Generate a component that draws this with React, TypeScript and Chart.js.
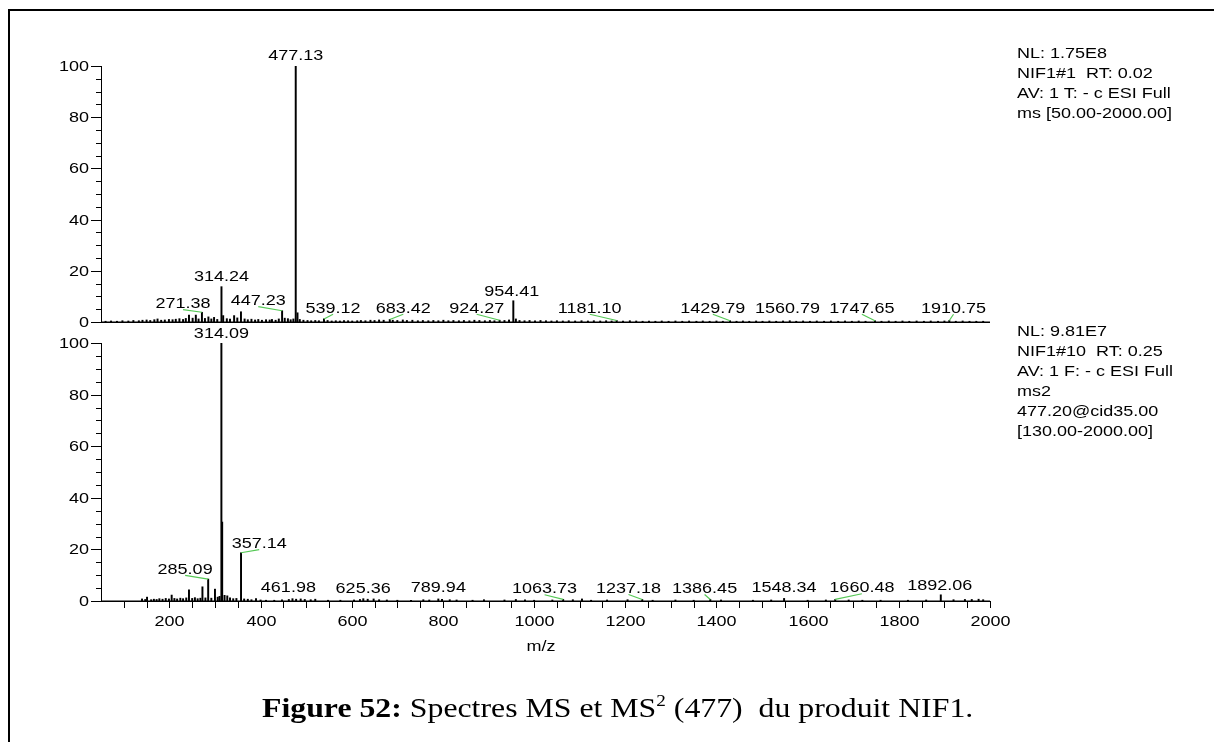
import React, { useEffect, useRef } from "react";
import { Chart, registerables } from "chart.js";

Chart.register(...registerables);

const X_MIN = 50;
const X_MAX = 2000;
const X_MAJOR_STEP = 200;
const X_MINOR_STEP = 50;
const Y_MAX = 100;
const Y_MAJOR_STEP = 20;
const Y_MINOR_STEP = 5;

// MS spectrum (top): [m/z, relative abundance %]
const TOP_PEAKS: [number, number][] = [
  [60, 0.3], [72, 0.4], [85, 0.3], [97, 0.5], [110, 0.4], [121, 0.6], [133, 0.5], [141, 0.7],
  [150, 0.8], [158, 0.6], [167, 0.9], [174, 1.2], [182, 0.7], [190, 0.8], [199, 1.0], [207, 0.9],
  [214, 1.1], [222, 1.3], [230, 1.0], [236, 1.4], [243, 2.7], [251, 1.5], [258, 2.7], [264, 1.2],
  [271.38, 3.8], [278, 1.4], [285.6, 2.0], [292, 1.2], [298, 1.8], [305, 1.0], [314.24, 13.8],
  [318, 2.5], [326, 1.3], [333, 1.1], [342, 2.5], [349, 1.6], [357, 4.0], [365, 1.2], [372, 0.9],
  [380, 1.1], [388, 0.8], [395, 1.0], [403, 0.7], [412, 0.9], [420, 0.8], [425, 1.0], [433, 0.7],
  [440, 1.2], [447.23, 4.4], [453, 1.5], [460, 1.3], [466, 0.9], [472, 1.2], [477.13, 100],
  [481, 3.6], [486, 1.0], [494, 0.7], [503, 0.6], [511, 0.5], [520, 0.6], [528, 0.5], [539.12, 1.2],
  [547, 0.6], [556, 0.4], [565, 0.5], [574, 0.4], [583, 0.6], [592, 0.5], [601, 0.4], [612, 0.5],
  [620, 0.6], [630, 0.5], [641, 0.7], [650, 0.6], [660, 0.8], [670, 0.7], [683.42, 1.0], [690, 0.7],
  [700, 0.6], [712, 0.8], [721, 0.6], [733, 0.7], [745, 0.5], [756, 0.6], [768, 0.5], [779, 0.6],
  [790, 0.5], [801, 0.7], [812, 0.5], [823, 0.6], [835, 0.5], [846, 0.6], [858, 0.5], [869, 0.7],
  [880, 0.6], [892, 0.5], [903, 0.6], [913, 0.5], [924.27, 0.7], [935, 0.6], [945, 0.8],
  [954.41, 8.3], [960, 1.2], [968, 0.6], [979, 0.5], [990, 0.6], [1002, 0.5], [1014, 0.6],
  [1026, 0.5], [1038, 0.4], [1050, 0.5], [1063, 0.4], [1076, 0.5], [1090, 0.4], [1104, 0.5],
  [1118, 0.4], [1131, 0.5], [1145, 0.4], [1158, 0.5], [1170, 0.4], [1181.1, 0.6], [1195, 0.4],
  [1210, 0.5], [1224, 0.4], [1238, 0.3], [1252, 0.4], [1266, 0.3], [1280, 0.4], [1295, 0.3],
  [1310, 0.4], [1325, 0.3], [1340, 0.4], [1356, 0.3], [1370, 0.4], [1385, 0.3], [1400, 0.4],
  [1414, 0.3], [1429.79, 0.5], [1444, 0.3], [1458, 0.4], [1472, 0.3], [1487, 0.4], [1501, 0.3],
  [1516, 0.4], [1531, 0.3], [1546, 0.4], [1560.79, 0.5], [1575, 0.3], [1590, 0.4], [1605, 0.3],
  [1620, 0.4], [1636, 0.3], [1651, 0.4], [1667, 0.3], [1682, 0.4], [1697, 0.3], [1712, 0.4],
  [1727, 0.3], [1747.65, 0.5], [1762, 0.3], [1778, 0.4], [1793, 0.3], [1808, 0.4], [1823, 0.3],
  [1839, 0.4], [1855, 0.3], [1870, 0.4], [1886, 0.3], [1900, 0.4], [1910.75, 0.6], [1925, 0.3],
  [1940, 0.4], [1955, 0.3], [1970, 0.3], [1985, 0.3],
];

// MS2 spectrum (bottom): [m/z, relative abundance %]
const BOTTOM_PEAKS: [number, number][] = [
  [140, 0.8], [147, 0.6], [151, 1.5], [160, 0.5], [166, 0.7], [172, 0.6], [178, 0.9], [185, 0.7],
  [192, 1.0], [199, 0.8], [205, 2.3], [211, 1.0], [217, 0.8], [224, 1.1], [230, 0.9], [237, 1.2],
  [243, 4.3], [250, 1.0], [256, 1.3], [262, 0.9], [268, 1.1], [272.5, 5.5], [279, 1.2],
  [285.09, 8.5], [292, 1.1], [300, 4.6], [306, 1.5], [310, 1.8], [314.09, 100], [315.8, 30.6],
  [321, 2.2], [327, 2.0], [333, 1.2], [340, 0.9], [347, 1.0], [357.14, 18.7], [364, 0.8],
  [372, 0.7], [380, 0.5], [390, 0.9], [400, 0.4], [412, 0.3], [430, 0.3], [447, 0.5], [461.98, 0.6],
  [470, 0.9], [478, 0.7], [488, 0.8], [497, 0.6], [510, 0.5], [520, 0.7], [548, 0.3], [575, 0.3],
  [605, 0.4], [618, 0.6], [625.36, 0.9], [635, 0.7], [648, 0.8], [660, 0.5], [677, 0.4], [700, 0.3],
  [730, 0.3], [757, 0.5], [770, 0.4], [789.94, 0.8], [798, 0.6], [815, 0.5], [830, 0.4], [865, 0.3],
  [890, 0.5], [935, 0.4], [960, 0.6], [980, 0.5], [1000, 0.3], [1040, 0.4], [1063.73, 0.6],
  [1085, 0.5], [1105, 0.8], [1125, 0.3], [1160, 0.4], [1205, 0.5], [1237.18, 0.6], [1260, 0.3],
  [1310, 0.4], [1350, 0.3], [1386.45, 0.6], [1410, 0.4], [1480, 0.3], [1520, 0.4], [1548.34, 1.0],
  [1600, 0.3], [1640, 0.4], [1660.48, 0.6], [1690, 0.4], [1720, 0.3], [1760, 0.3], [1820, 0.3],
  [1860, 0.4], [1892.06, 2.4], [1920, 0.5], [1945, 0.6], [1960, 0.6], [1975, 0.7], [1985, 0.5],
];

// Peak labels: [text, peak m/z, peak %, label centre m/z, label baseline %]
const TOP_LABELS: [string, number, number, number, number][] = [
  ["477.13", 477.13, 100, 477.13, 102.5],
  ["314.24", 314.24, 13.8, 314.24, 16.2],
  ["271.38", 271.38, 3.8, 230, 5.4],
  ["447.23", 447.23, 4.4, 395, 6.6],
  ["539.12", 539.12, 1.2, 559, 3.6],
  ["683.42", 683.42, 1.0, 713, 3.6],
  ["924.27", 924.27, 0.7, 874, 3.6],
  ["954.41", 954.41, 8.3, 951, 10.2],
  ["1181.10", 1181.1, 0.6, 1122, 3.6],
  ["1429.79", 1429.79, 0.5, 1392, 3.6],
  ["1560.79", 1560.79, 0.5, 1556, 3.6],
  ["1747.65", 1747.65, 0.5, 1719, 3.6],
  ["1910.75", 1910.75, 0.6, 1920, 3.6],
];

const BOTTOM_LABELS: [string, number, number, number, number][] = [
  ["314.09", 314.09, 100, 314.09, 102],
  ["357.14", 357.14, 18.7, 397, 20.5],
  ["285.09", 285.09, 8.5, 234.5, 10.5],
  ["461.98", 461.98, 0.6, 461, 3.4],
  ["625.36", 625.36, 0.9, 625, 3.0],
  ["789.94", 789.94, 0.8, 790, 3.5],
  ["1063.73", 1063.73, 0.6, 1023, 3.0],
  ["1237.18", 1237.18, 0.6, 1207, 3.1],
  ["1386.45", 1386.45, 0.6, 1374, 3.1],
  ["1548.34", 1548.34, 1.0, 1548, 3.5],
  ["1660.48", 1660.48, 0.6, 1719, 3.4],
  ["1892.06", 1892.06, 2.4, 1890, 4.3],
];

const TOP_INFO = ["NL: 1.75E8", "NIF1#1  RT: 0.02", "AV: 1 T: - c ESI Full", "ms [50.00-2000.00]"];
const BOTTOM_INFO = [
  "NL: 9.81E7",
  "NIF1#10  RT: 0.25",
  "AV: 1 F: - c ESI Full",
  "ms2",
  "477.20@cid35.00",
  "[130.00-2000.00]",
];
const X_TITLE = "m/z";

const STRETCH = 1.2;
const FONT = '15px "Liberation Sans", Arial, sans-serif';

function stretchText(ctx: CanvasRenderingContext2D, text: string, x: number, y: number, align: CanvasTextAlign, baseline: CanvasTextBaseline) {
  ctx.save();
  ctx.translate(x, y);
  ctx.scale(STRETCH, 1);
  ctx.font = FONT;
  ctx.fillStyle = "#000";
  ctx.textAlign = align;
  ctx.textBaseline = baseline;
  ctx.fillText(text, 0, 0);
  ctx.restore();
}

const spectrumDecor = {
  id: "spectrumDecor",
  afterDraw(chart: any, _args: any, opts: any) {
    const ctx: CanvasRenderingContext2D = chart.ctx;
    const xs = chart.scales.x;
    const ys = chart.scales.y;
    const left = xs.getPixelForValue(X_MIN);
    const right = xs.getPixelForValue(X_MAX);
    const y0 = ys.getPixelForValue(0);
    const yTop = ys.getPixelForValue(Y_MAX);
    ctx.save();
    ctx.strokeStyle = "#000";
    ctx.lineWidth = 1;
    // y axis
    ctx.beginPath();
    ctx.moveTo(left + 0.5, yTop);
    ctx.lineTo(left + 0.5, y0 + 1);
    ctx.stroke();
    for (let v = 0; v <= Y_MAX; v += Y_MINOR_STEP) {
      const y = Math.round(ys.getPixelForValue(v)) + 0.5;
      const major = v % Y_MAJOR_STEP === 0;
      ctx.beginPath();
      ctx.moveTo(left - (major ? 10 : 5), y);
      ctx.lineTo(left + 0.5, y);
      ctx.stroke();
      if (major) stretchText(ctx, String(v), left - 12, y, "right", "middle");
    }
    // baseline
    ctx.lineWidth = 1.6;
    ctx.beginPath();
    ctx.moveTo(left, y0 + 0.2);
    ctx.lineTo(right, y0 + 0.2);
    ctx.stroke();
    ctx.lineWidth = 1;
    if (opts.xTicks) {
      for (let v = 100; v <= X_MAX; v += X_MINOR_STEP) {
        const x = Math.round(xs.getPixelForValue(v)) + 0.5;
        ctx.beginPath();
        ctx.moveTo(x, y0);
        ctx.lineTo(x, y0 + 7);
        ctx.stroke();
        if (v % X_MAJOR_STEP === 0) stretchText(ctx, String(v), x, y0 + 21, "center", "middle");
      }
      stretchText(ctx, X_TITLE, 541, y0 + 46, "center", "middle");
    }
    // peak labels with leader lines
    for (const [text, pmz, pint, lmz, lvl] of opts.labels as [string, number, number, number, number][]) {
      const lx = xs.getPixelForValue(lmz);
      const ly = ys.getPixelForValue(lvl);
      const px = xs.getPixelForValue(pmz);
      const py = ys.getPixelForValue(pint);
      if (Math.abs(lx - px) > 3) {
        ctx.strokeStyle = "#55c855";
        ctx.lineWidth = 1.2;
        ctx.beginPath();
        ctx.moveTo(lx, ly + 1.5);
        ctx.lineTo(px, py);
        ctx.stroke();
      }
      stretchText(ctx, text, lx, ly, "center", "alphabetic");
    }
    ctx.restore();
  },
};

function makeChart(canvas: HTMLCanvasElement, peaks: [number, number][], labels: any, top: number, bottom: number, xTicks: boolean) {
  return new Chart(canvas, {
    type: "bar",
    data: {
      datasets: [
        {
          data: peaks.map(([x, y]) => ({ x, y })),
          backgroundColor: "#000",
          borderWidth: 0,
          barThickness: 1.3,
        } as any,
      ],
    },
    options: {
      responsive: false,
      maintainAspectRatio: false,
      devicePixelRatio: 1,
      animation: false,
      events: [],
      layout: { padding: { left: 101, right: 1214 - 990, top, bottom: 742 - bottom } },
      scales: {
        x: { type: "linear", min: X_MIN, max: X_MAX, offset: false, display: false },
        y: { min: 0, max: Y_MAX, display: false },
      },
      plugins: {
        legend: { display: false },
        tooltip: { enabled: false },
        spectrumDecor: { labels, xTicks },
      } as any,
    },
    plugins: [spectrumDecor],
  });
}

export default function App() {
  const topRef = useRef<HTMLCanvasElement>(null);
  const botRef = useRef<HTMLCanvasElement>(null);
  useEffect(() => {
    const a = makeChart(topRef.current!, TOP_PEAKS, TOP_LABELS, 66, 322, false);
    const b = makeChart(botRef.current!, BOTTOM_PEAKS, BOTTOM_LABELS, 343, 601, true);
    return () => {
      a.destroy();
      b.destroy();
    };
  }, []);

  const infoStyle: React.CSSProperties = {
    position: "absolute",
    left: 1017,
    font: '15px "Liberation Sans", Arial, sans-serif',
    lineHeight: "20px",
    whiteSpace: "pre",
    transform: `scaleX(${STRETCH})`,
    transformOrigin: "0 0",
    color: "#000",
  };

  return (
    <div style={{ position: "absolute", left: 0, top: 0, width: 1214, height: 742, overflow: "hidden", background: "#fff" }}>
      <div style={{ position: "absolute", left: 8, top: 9, width: 1214, height: 742, borderTop: "2.5px solid #000", borderLeft: "2.5px solid #000" }} />
      <canvas ref={topRef} width={1214} height={742} style={{ position: "absolute", left: 0, top: 0 }} />
      <canvas ref={botRef} width={1214} height={742} style={{ position: "absolute", left: 0, top: 0 }} />
      <div style={{ ...infoStyle, top: 43 }}>{TOP_INFO.join("\n")}</div>
      <div style={{ ...infoStyle, top: 321 }}>{BOTTOM_INFO.join("\n")}</div>
      <div
        style={{
          position: "absolute",
          left: 262,
          top: 694,
          font: '26.5px "Liberation Serif", "Times New Roman", serif',
          whiteSpace: "pre",
          transform: "scaleX(1.2)",
          transformOrigin: "0 0",
          color: "#000",
          lineHeight: "28px",
        }}
      >
        <b>Figure 52:</b> Spectres MS et MS<sup style={{ fontSize: "16px", verticalAlign: "11px", lineHeight: 0 }}>2</sup> (477)  du produit NIF1.
      </div>
    </div>
  );
}
